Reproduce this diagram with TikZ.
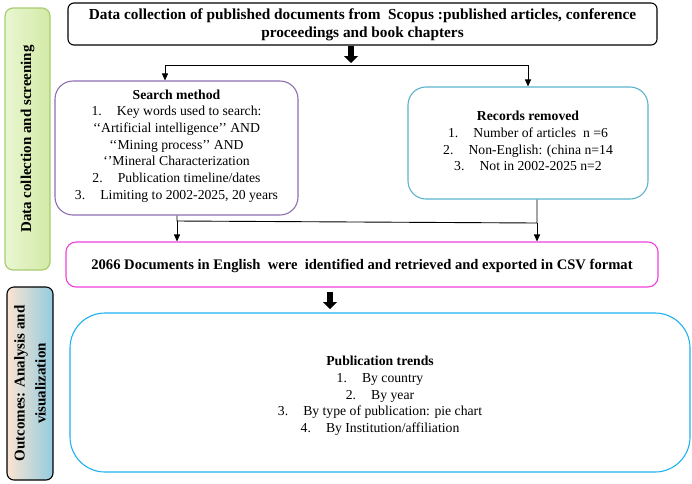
\documentclass[tikz,border=0pt]{standalone}
\usepackage{fontspec}
\setmainfont{Liberation Serif}
\usetikzlibrary{arrows.meta,calc}
\definecolor{purp}{HTML}{8D70B0}
\definecolor{cyanb}{HTML}{5BB4CC}
\definecolor{pinkb}{HTML}{F040DC}
\definecolor{blueb}{HTML}{1EB2F0}
\definecolor{greenb}{HTML}{A9CC70}
\definecolor{greenl}{HTML}{EAF6D2}
\definecolor{greend}{HTML}{D2EAA6}
\definecolor{peach}{HTML}{FCE4D2}
\definecolor{blued}{HTML}{92CCDF}
\newcommand{\sz}{\fontsize{13.7}{16.7}\selectfont}
\newcommand{\nm}[1]{#1\hspace{1.1em}}
\tikzset{
  box/.style={draw, line width=1.1pt, fill=white, inner sep=0pt},
  txt/.style={align=center, inner sep=0pt, font=\sz},
  thin/.style={draw, line width=0.9pt, -{Triangle[width=6pt,length=7pt]}},
  plain/.style={draw, line width=0.9pt},
  thick/.style={draw, line width=6pt, -{Triangle[width=14pt,length=7pt]}},
  bar/.style={draw, rotate=90, align=center, inner sep=0pt, font=\fontsize{15}{21}\selectfont\bfseries}
}
\begin{document}
\begin{tikzpicture}[x=1pt,y=-1pt]
\useasboundingbox (0,0) rectangle (692,483);

% side bars
\node[bar, draw=greenb, line width=1.2pt, rounded corners=8pt, left color=greenl, right color=greend,
  minimum width=262pt, minimum height=45pt] (bar1) at (27.5,139)
  {Data collection and screening};
\node[bar, draw=black, line width=1.1pt, rounded corners=7pt, left color=peach, right color=blued,
  minimum width=193pt, minimum height=46pt] (bar2) at (30,383.5)
  {Outcomes: Analysis and\\visualization};

% boxes
\node[box, draw=black, rounded corners=6pt, minimum width=589pt, minimum height=42pt] (top) at (362.5,24) {};
\node[txt, font=\fontsize{15.3}{18}\selectfont\bfseries] (topT) at (362.5,25)
  {Data collection of published documents from\ \ Scopus :published articles, conference\\proceedings and book chapters};

\node[box, draw=purp, rounded corners=18pt, minimum width=243pt, minimum height=134pt] (search) at (176.5,148) {};
\node[txt] (searchT) at (176.5,146)
  {\textbf{Search method}\\
   \nm{1.}Key words used to search:\\
   ‘‘Artificial intelligence’’ AND\\
   ‘‘Mining process’’ AND\\
   ‘’Mineral Characterization\\
   \nm{2.}Publication timeline/dates\\
   \nm{3.}Limiting to 2002-2025, 20 years};

\node[box, draw=cyanb, rounded corners=18pt, minimum width=240pt, minimum height=112pt] (records) at (528,143) {};
\node[txt] (recordsT) at (528,141)
  {\textbf{Records removed}\\
   \nm{1.}Number of articles\ \ n =6\\
   \nm{2.}Non-English: (china n=14\\
   \nm{3.}Not in 2002-2025 n=2};

\node[box, draw=pinkb, rounded corners=10pt, minimum width=592pt, minimum height=45pt] (pink) at (362,264.5) {};
\node[txt, font=\fontsize{14.6}{18}\selectfont\bfseries] (pinkT) at (362,265.5)
  {2066 Documents in English\ \ were\ \ identified and retrieved and exported in CSV format};

\node[box, draw=blueb, rounded corners=35pt, minimum width=620pt, minimum height=159pt] (blue) at (380,392.5) {};
\node[txt] (blueT) at (380,396)
  {\textbf{Publication trends}\\
   \nm{1.}By country\\
   \nm{2.}By year\\
   \nm{3.}By type of publication: pie chart\\
   \nm{4.}By Institution/affiliation};

% connectors
\coordinate (t1) at (351,63);
\coordinate (sL) at (165,65);
\coordinate (sR) at (528,65);
\draw[thick] (top.south -| t1) -- (t1);
\draw[plain] (sL) -- (sR);
\draw[thin] (sL) -- (sL |- search.north);
\draw[thin] (sR) -- (sR |- records.north);

\coordinate (j1) at (177,221);
\coordinate (j2) at (537,223);
\draw[plain] (search.south -| j1) -- (j1) -- (j2) -- (records.south -| j2);
\draw[thin] (j1) -- (j1 |- pink.north);
\draw[thin] (j2) -- (j2 |- pink.north);

\coordinate (t2) at (330,309);
\draw[thick] (pink.south -| t2) ++(0,4) -- (t2);
\end{tikzpicture}
\end{document}
